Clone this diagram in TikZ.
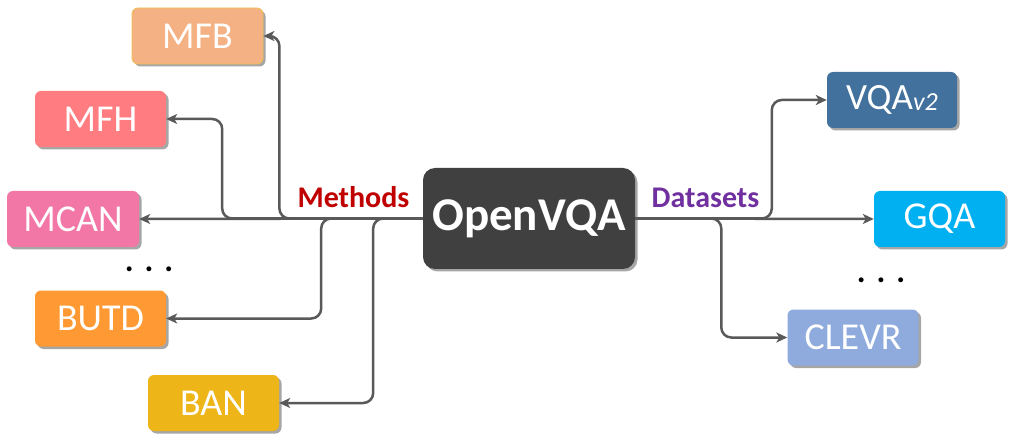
\documentclass[tikz,border=0pt]{standalone}
\usepackage{fontspec}
\setmainfont{Carlito}
\usetikzlibrary{arrows.meta,shadows}
\definecolor{cmfb}{HTML}{F4B183}
\definecolor{cmfbb}{HTML}{EFC050}
\definecolor{cmfh}{HTML}{FF7C80}
\definecolor{cmcan}{HTML}{F277A6}
\definecolor{cbutd}{HTML}{FF9933}
\definecolor{cban}{HTML}{EEB518}
\definecolor{cov}{HTML}{404040}
\definecolor{cvqa}{HTML}{41719C}
\definecolor{cgqa}{HTML}{00B0F0}
\definecolor{cclevr}{HTML}{8FAADC}
\definecolor{cline}{HTML}{595959}
\definecolor{cmeth}{HTML}{C00000}
\definecolor{cdata}{HTML}{7030A0}
\begin{document}
\begin{tikzpicture}[x=1pt,y=-1pt,
  boxnode/.style={rounded corners=6pt, minimum width=131pt, minimum height=56pt,
    inner sep=0pt, text=white, font=\fontsize{38}{42}\selectfont,
    drop shadow={shadow xshift=2.5pt, shadow yshift=-2.5pt, opacity=0.35, fill=black}},
  conn/.style={draw=cline, line width=2.5pt, rounded corners=10pt,
    -{Stealth[length=11pt,width=10pt,inset=3pt]}},
  lbl/.style={font=\bfseries\fontsize{30}{34}\selectfont, anchor=base},
  dotsnode/.style={font=\bfseries\fontsize{33}{36}\selectfont, anchor=base, inner sep=0pt}]
\useasboundingbox (0,0) rectangle (1014,446);
% nodes
\node[boxnode, fill=cmfb, draw=cmfbb, line width=0.8pt] (mfb) at (197.5,36) {MFB};
\node[boxnode, fill=cmfh] (mfh) at (100.5,119) {MFH};
\node[boxnode, fill=cmcan, minimum width=132pt] (mcan) at (73,219) {MCAN};
\node[boxnode, fill=cbutd] (butd) at (100.5,318.5) {BUTD};
\node[boxnode, fill=cban] (ban) at (213.5,403) {BAN};
\node[boxnode, fill=cov, minimum width=212pt, minimum height=101pt, rounded corners=12pt,
  font=\bfseries\fontsize{47}{52}\selectfont] (ov) at (529,218.5) {OpenVQA};
\node[boxnode, fill=cvqa, minimum width=130pt] (vqa) at (892,100) {\fontsize{37}{40}\selectfont VQA\raisebox{-1pt}{\fontsize{26}{28}\selectfont\itshape v2}};
\node[boxnode, fill=cgqa] (gqa) at (939.5,219) {GQA};
\node[boxnode, fill=cclevr] (clevr) at (853,337.5) {CLEVR};
\node[lbl, text=cmeth] (meth) at (353.5,208) {Methods};
\node[lbl, text=cdata] (data) at (705.5,208) {Datasets};
\node[dotsnode] (ldots) at (149,272) {.\,\,.\,\,.};
\node[dotsnode] (rdots) at (881,282) {.\,\,.\,\,.};
% connectors
\draw[conn] (ov.west) -- (mcan.east);
\draw[conn] (ov.west) -| ([xshift=16pt]mfb.east) -- (mfb.east);
\draw[conn] (ov.west) -| ([xshift=56pt]mfh.east) -- (mfh.east);
\draw[conn] (ov.west) -| ([xshift=155pt]butd.east) -- (butd.east);
\draw[conn] (ov.west) -| ([xshift=94pt]ban.east) -- (ban.east);
\draw[conn] (ov.east) -- (gqa.west);
\draw[conn] (ov.east) -| ([xshift=-55pt]vqa.west) -- (vqa.west);
\draw[conn] (ov.east) -| ([xshift=-66pt]clevr.west) -- (clevr.west);
\end{tikzpicture}
\end{document}
